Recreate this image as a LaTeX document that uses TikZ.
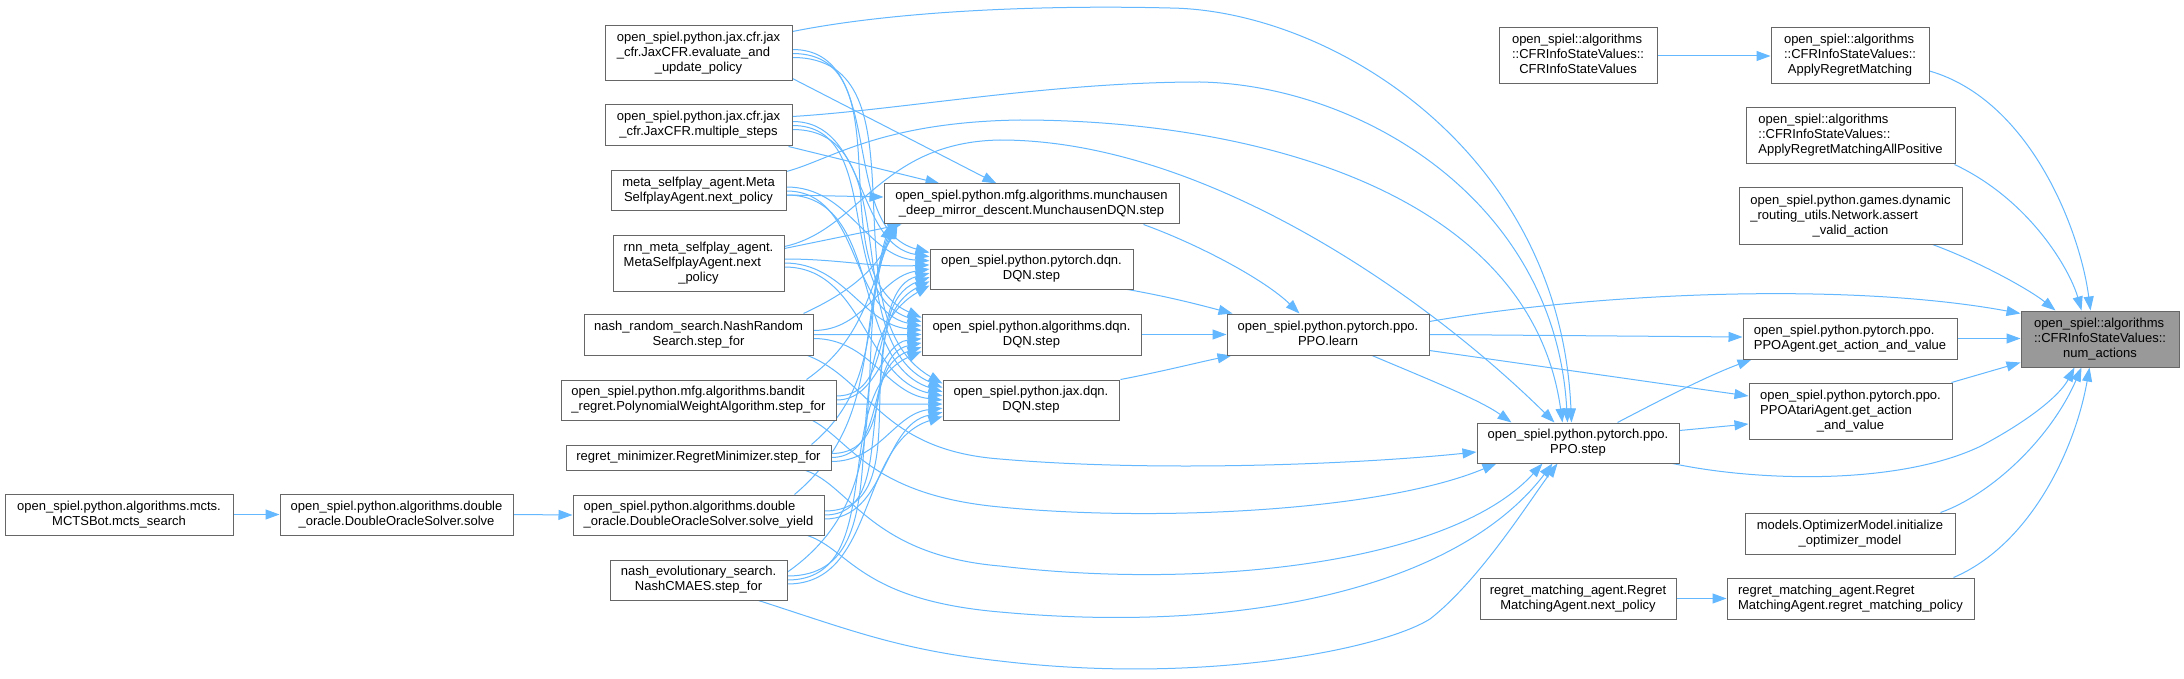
\documentclass[tikz,border=0pt]{standalone}
\usepackage{fontspec}
\setmainfont{Liberation Sans}
\usetikzlibrary{arrows.meta,calc}
\definecolor{edgeblue}{HTML}{63B8FF}
\definecolor{boxgrey}{HTML}{666666}
\definecolor{rootfill}{HTML}{999999}
\pgfdeclarelayer{back}
\pgfdeclarelayer{edges}
\pgfsetlayers{back,edges,main}
\newcommand{\nlab}[2]{\begin{tabular}{@{}l@{}}#1\\\multicolumn{1}{@{}c@{}}{#2}\end{tabular}}
\begin{document}
\begin{tikzpicture}[x=1pt,y=-1pt,
  box/.style={draw=boxgrey, line width=1pt, fill=white, inner sep=0pt, font=\fontsize{13}{15}\selectfont, text=black},
  root/.style={box, fill=rootfill},
  edge/.style={draw=edgeblue, line width=1pt, -{Triangle[length=14pt,width=10pt]}}]
\useasboundingbox (0,0) rectangle (2184,679);
\begin{pgfonlayer}{back}
\fill[white] (0,0) rectangle (2184,679);
\end{pgfonlayer}

% nodes
\node[box,minimum width=228,minimum height=41] (mcts) at (119,514.5) {\nlab{open\_spiel.python.algorithms.mcts.}{MCTSBot.mcts\_search}};
\node[box,minimum width=233,minimum height=41] (solve) at (396.5,514.5) {\nlab{open\_spiel.python.algorithms.double}{\_oracle.DoubleOracleSolver.solve}};
\node[box,minimum width=187,minimum height=55] (evalpol) at (698.5,53.5) {\nlab{open\_spiel.python.jax.cfr.jax\\\_cfr.JaxCFR.evaluate\_and}{\_update\_policy}};
\node[box,minimum width=187,minimum height=41] (multsteps) at (698.5,125.5) {\nlab{open\_spiel.python.jax.cfr.jax}{\_cfr.JaxCFR.multiple\_steps}};
\node[box,minimum width=175,minimum height=40] (metanext) at (698.5,191) {\nlab{meta\_selfplay\_agent.Meta}{SelfplayAgent.next\_policy}};
\node[box,minimum width=171,minimum height=56] (rnnnext) at (698.5,263) {\nlab{rnn\_meta\_selfplay\_agent.\\MetaSelfplayAgent.next}{\_policy}};
\node[box,minimum width=229,minimum height=41] (nashrand) at (698.5,334.5) {\nlab{nash\_random\_search.NashRandom}{Search.step\_for}};
\node[box,minimum width=275,minimum height=40] (bandit) at (698.5,400) {\nlab{open\_spiel.python.mfg.algorithms.bandit}{\_regret.PolynomialWeightAlgorithm.step\_for}};
\node[box,minimum width=265,minimum height=25] (regretmin) at (698.5,457.5) {regret\_minimizer.RegretMinimizer.step\_for};
\node[box,minimum width=251,minimum height=40] (solveyield) at (698.5,515) {\nlab{open\_spiel.python.algorithms.double}{\_oracle.DoubleOracleSolver.solve\_yield}};
\node[box,minimum width=177,minimum height=40] (nashevo) at (698.5,580) {\nlab{nash\_evolutionary\_search.}{NashCMAES.step\_for}};
\node[box,minimum width=295,minimum height=40] (munch) at (1031.5,204) {\nlab{open\_spiel.python.mfg.algorithms.munchausen}{\_deep\_mirror\_descent.MunchausenDQN.step}};
\node[box,minimum width=203,minimum height=40] (torchdqn) at (1031.5,269) {\nlab{open\_spiel.python.pytorch.dqn.}{DQN.step}};
\node[box,minimum width=219,minimum height=41] (algdqn) at (1031.5,334.5) {\nlab{open\_spiel.python.algorithms.dqn.}{DQN.step}};
\node[box,minimum width=176,minimum height=40] (jaxdqn) at (1031,400) {\nlab{open\_spiel.python.jax.dqn.}{DQN.step}};
\node[box,minimum width=202,minimum height=41] (ppolearn) at (1328,334.5) {\nlab{open\_spiel.python.pytorch.ppo.}{PPO.learn}};
\node[box,minimum width=202,minimum height=40] (ppostep) at (1578,443) {\nlab{open\_spiel.python.pytorch.ppo.}{PPO.step}};
\node[box,minimum width=196,minimum height=41] (rmnext) at (1578,598.5) {\nlab{regret\_matching\_agent.Regret}{MatchingAgent.next\_policy}};
\node[box,minimum width=158,minimum height=56] (cfrctor) at (1578,56) {\nlab{open\_spiel::algorithms\\::CFRInfoStateValues::}{CFRInfoStateValues}};
\node[box,minimum width=158,minimum height=56] (applyrm) at (1850,56) {\nlab{open\_spiel::algorithms\\::CFRInfoStateValues::}{ApplyRegretMatching}};
\node[box,minimum width=209,minimum height=56] (applyrmap) at (1850.5,136) {\nlab{open\_spiel::algorithms\\::CFRInfoStateValues::}{ApplyRegretMatchingAllPositive}};
\node[box,minimum width=223,minimum height=56] (assertva) at (1850.5,216) {\nlab{open\_spiel.python.games.dynamic\\\_routing\_utils.Network.assert}{\_valid\_action}};
\node[box,minimum width=214,minimum height=41] (ppoagent) at (1850,338.5) {\nlab{open\_spiel.python.pytorch.ppo.}{PPOAgent.get\_action\_and\_value}};
\node[box,minimum width=203,minimum height=56] (ppoatari) at (1850.5,411) {\nlab{open\_spiel.python.pytorch.ppo.\\PPOAtariAgent.get\_action}{\_and\_value}};
\node[box,minimum width=210,minimum height=41] (optmodel) at (1850,533.5) {\nlab{models.OptimizerModel.initialize}{\_optimizer\_model}};
\node[box,minimum width=247,minimum height=41] (rmpolicy) at (1850.5,598.5) {\nlab{regret\_matching\_agent.Regret}{MatchingAgent.regret\_matching\_policy}};
\node[root,minimum width=158,minimum height=56] (numactions) at (2100,339) {\nlab{open\_spiel::algorithms\\::CFRInfoStateValues::}{num\_actions}};

\begin{pgfonlayer}{edges}
% simple chains
\draw[edge] (mcts) -- (solve);
\draw[edge] (solve.east) -- (solveyield.west);
\draw[edge] (cfrctor) -- (applyrm);
\draw[edge] (rmnext) -- (rmpolicy);
\draw[edge] (algdqn) -- (ppolearn);
\draw[edge] (ppoagent.east) -- (numactions.west |- ppoagent.east);

% dqn family -> PPO.learn
\draw[edge] ($(munch.south east)+(-36,0)$) .. controls (1200,245) and (1265,280) .. ($(ppolearn.north west)+(73,0)$);
\draw[edge] ($(torchdqn.south east)+(-6,0)$) .. controls (1170,297) and (1200,305) .. ($(ppolearn.north west)+(6,0)$);
\draw[edge] ($(jaxdqn.north east)+(1,0)$) .. controls (1160,372) and (1200,362) .. ($(ppolearn.south west)+(5,0)$);

% PPO.learn callees
\draw[edge] (ppolearn.east) -- ($(ppoagent.west)+(0,-1.5)$);
\draw[edge] ($(ppolearn.south east)+(0,-5)$) -- ($(ppoatari.west)+(0,-15)$);
\draw[edge] ($(ppolearn.south)+(44,0)$) .. controls (1430,380) and (1480,400) .. ($(ppostep.north west)+(35,0)$);
\draw[edge] ($(ppolearn.north east)+(0,8)$) .. controls (1600,292) and (1850,282) .. ($(numactions.north west)+(0,3)$);

% PPO.step callees
\draw[edge] ($(ppostep.north east)+(-62,0)$) .. controls (1670,395) and (1710,375) .. ($(ppoagent.south west)+(9,0)$);
\draw[edge] ($(ppostep.north east)+(0,8)$) -- ($(ppoatari.west)+(0,13)$);
\draw[edge] ($(ppostep.south east)+(-7,0)$) .. controls (1760,482) and (1900,485) .. (1981,446) .. controls (2030,420) and (2060,395) .. ($(numactions.south west)+(54,0)$);

% other callers of num_actions
\draw[edge] ($(ppoatari.north east)+(-1,0)$) -- ($(numactions.south west)+(0,-5)$);
\draw[edge] ($(applyrm.east)+(0,15)$) .. controls (2030,100) and (2080,230) .. ($(numactions.north west)+(70,0)$);
\draw[edge] ($(applyrmap.south east)+(-1,0)$) .. controls (2030,200) and (2070,270) .. ($(numactions.north west)+(61,0)$);
\draw[edge] ($(assertva.south east)+(-30,0)$) .. controls (1980,262) and (2030,290) .. ($(numactions.north west)+(35,0)$);
\draw[edge] ($(optmodel.north east)+(-15,0)$) .. controls (1990,495) and (2050,440) .. ($(numactions.south west)+(61,0)$);
\draw[edge] ($(rmpolicy.north east)+(-21,0)$) .. controls (2030,545) and (2075,450) .. ($(numactions.south west)+(69,0)$);

% left column -> PPO.step (long routes)
\draw[edge] ($(evalpol.north east)+(0,6)$) .. controls (900,10) and (1050,5) .. (1170,8) .. controls (1330,10) and (1560,150) .. ($(ppostep.north west)+(95,0)$);
\draw[edge] ($(multsteps.north east)+(0,12)$) .. controls (900,110) and (1050,82) .. (1200,82) .. controls (1360,85) and (1555,200) .. ($(ppostep.north west)+(91,0)$);
\draw[edge] ($(metanext.north east)+(0,1)$) .. controls (830,160) and (880,122) .. (1020,120) .. controls (1250,120) and (1530,190) .. ($(ppostep.north west)+(86,0)$);
\draw[edge] ($(rnnnext.north east)+(0,12)$) .. controls (860,230) and (880,142) .. (1000,140) .. controls (1200,140) and (1420,290) .. ($(ppostep.north west)+(78,0)$);
\draw[edge] ($(nashrand.south east)+(-6,0)$) .. controls (870,380) and (880,450) .. (1000,459) .. controls (1150,472) and (1350,465) .. ($(ppostep.west)+(0,9)$);
\draw[edge] ($(bandit.south east)+(-24,0)$) .. controls (850,440) and (870,495) .. (1000,507) .. controls (1150,522) and (1380,512) .. ($(ppostep.south west)+(20,0)$);
\draw[edge] ($(regretmin.south east)+(-26,0)$) .. controls (850,485) and (870,555) .. (1000,566) .. controls (1200,590) and (1450,565) .. ($(ppostep.south west)+(66,0)$);
\draw[edge] ($(solveyield.south east)+(-17,0)$) .. controls (850,550) and (860,600) .. (1000,612) .. controls (1250,635) and (1460,585) .. ($(ppostep.south west)+(76,0)$);
\draw[edge] ($(nashevo.south east)+(-29,0)$) .. controls (850,630) and (900,650) .. (1000,661) .. controls (1200,685) and (1380,650) .. (1430,619) .. controls (1480,580) and (1530,500) .. ($(ppostep.south west)+(81,0)$);

% left column -> MunchausenDQN.step
\draw[edge] ($(evalpol.south east)+(0,-3)$) -- ($(munch.north west)+(113,0)$);
\draw[edge] ($(multsteps.south east)+(-4,0)$) -- ($(munch.north west)+(56,0)$);
\draw[edge] ($(metanext.east)+(0,4)$) -- ($(munch.west)+(0,-7)$);
\draw[edge] ($(rnnnext.north east)+(0,14)$) -- ($(munch.south west)+(18,0)$);
\draw[edge] ($(nashrand.north east)+(-10,0)$) to[out=25,in=245] ($(munch.south west)+(14,0)$);
\draw[edge] ($(bandit.north east)+(-30,0)$) to[out=35,in=248] ($(munch.south west)+(12,0)$);
\draw[edge] ($(regretmin.north east)+(-20,0)$) to[out=40,in=250] ($(munch.south west)+(10,0)$);
\draw[edge] ($(solveyield.north east)+(-30,0)$) to[out=40,in=252] ($(munch.south west)+(8,0)$);
\draw[edge] ($(nashevo.east)+(0,-8)$) to[out=35,in=254] ($(munch.south west)+(6,0)$);

% left column -> DQN.step variants
\foreach \s [count=\i from 0] in {evalpol,multsteps,metanext,rnnnext,nashrand,bandit,regretmin,solveyield,nashevo}{
  \foreach \t/\tr/\dy in {torchdqn/2.5/-4,algdqn/4/0,jaxdqn/5/4}{
    \pgfmathsetmacro\fr{0.1+0.1*\i}
    \pgfmathsetmacro\ain{180-max(-30,min(30,6*(\tr-\i)))}
    \draw[edge] ($(\s.east)+(0,\dy)$) to[out=0,in=\ain] ($(\t.north west)!\fr!(\t.south west)$);
  }
}
\end{pgfonlayer}
\end{tikzpicture}
\end{document}
